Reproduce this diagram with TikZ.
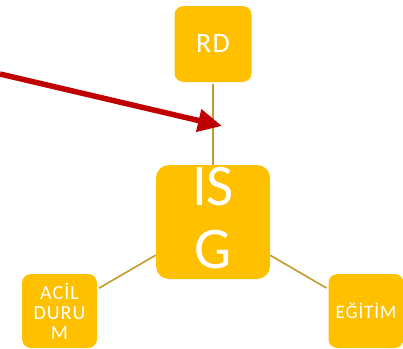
\documentclass[tikz,border=0pt]{standalone}
\usepackage{fontspec}
\setmainfont{Carlito}
\newfontfamily\boxfont[LetterSpace=5]{Carlito}
\usetikzlibrary{arrows.meta}
\definecolor{gold}{HTML}{FFC000}
\definecolor{goldline}{HTML}{C49A2C}
\definecolor{arrred}{HTML}{C00000}
\tikzset{
  gbox/.style={fill=gold, draw=none, rounded corners=9pt, inner sep=0pt, text=white, align=center},
  link/.style={draw=goldline, line width=1.6pt},
}
\begin{document}
\begin{tikzpicture}[x=1pt,y=-1pt]
\useasboundingbox (0,0) rectangle (403,348);
\node[gbox, minimum width=77pt, minimum height=76pt, font=\boxfont\fontsize{28}{32}\selectfont] (rd) at (213,44) {RD};
\node[gbox, minimum width=114pt, minimum height=114pt, rounded corners=13pt] (isg) at (213,222) {};
\node[text=white, align=center, inner sep=0pt, font=\fontsize{59}{63}\selectfont] (isgtext) at (213,218) {IS\\G};
\node[gbox, minimum width=75pt, minimum height=74pt, font=\boxfont\fontsize{20}{20}\selectfont] (acil) at (59.5,311) {ACİL\\DURU\\M};
\node[gbox, minimum width=75pt, minimum height=74pt, font=\boxfont\fontsize{19}{22}\selectfont] (egitim) at (366,311) {EĞİTİM};
\draw[link, shorten <=2pt] (rd.south) -- (rd.south |- isg.north);
\draw[link, shorten >=2pt] (isg) -- (acil);
\draw[link, shorten >=2pt] (isg) -- (egitim);
\coordinate (arrstart) at (0,74);
\coordinate (arrtip) at (222,126);
\draw[draw=arrred, line width=5.5pt, -{Triangle[length=24pt, width=22pt]}] (arrstart) -- (arrtip);
\end{tikzpicture}
\end{document}
